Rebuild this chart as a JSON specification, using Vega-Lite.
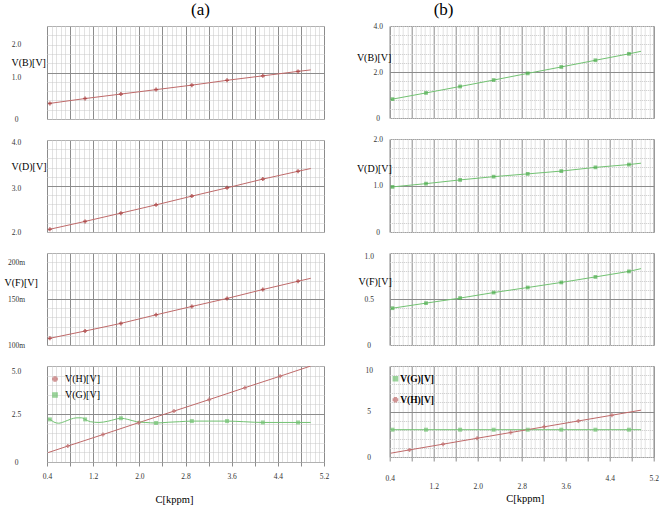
{
"$schema": "https://vega.github.io/schema/vega-lite/v6.json",
"padding": {"left": 3, "top": 0, "right": 5, "bottom": 0},
"spacing": 25.7,
"resolve": {"scale": {"color": "independent", "shape": "independent"}, "legend": {"color": "independent", "shape": "independent"}},
"config": {
 "font": "Liberation Serif",
 "view": {"stroke": "#999999", "strokeWidth": 1},
 "axis": {"labelFont": "Liberation Serif", "titleFont": "Liberation Serif", "labelColor": "#333333", "titleColor": "#000000", "titleFontWeight": "normal", "labelFontSize": 7.5, "domain": false, "labelOverlap": false, "labelFlush": false, "labelBound": false},
 "legend": {"labelFont": "Liberation Serif"},
 "title": {"font": "Liberation Serif", "fontWeight": "normal", "color": "#000000"}
},
"data": {"values": [
 {"panel":"a1","series":"V(B)","kind":"line","x":0.42,"y":0.41},
 {"panel":"a1","series":"V(B)","kind":"point","x":0.45,"y":0.42},
 {"panel":"a1","series":"V(B)","kind":"point","x":1.06,"y":0.55},
 {"panel":"a1","series":"V(B)","kind":"point","x":1.68,"y":0.67},
 {"panel":"a1","series":"V(B)","kind":"point","x":2.29,"y":0.79},
 {"panel":"a1","series":"V(B)","kind":"point","x":2.91,"y":0.91},
 {"panel":"a1","series":"V(B)","kind":"point","x":3.52,"y":1.04},
 {"panel":"a1","series":"V(B)","kind":"point","x":4.14,"y":1.16},
 {"panel":"a1","series":"V(B)","kind":"point","x":4.75,"y":1.28},
 {"panel":"a1","series":"V(B)","kind":"line","x":4.97,"y":1.32},
 {"panel":"a2","series":"V(D)","kind":"line","x":0.42,"y":2.04},
 {"panel":"a2","series":"V(D)","kind":"point","x":0.45,"y":2.06},
 {"panel":"a2","series":"V(D)","kind":"point","x":1.06,"y":2.23},
 {"panel":"a2","series":"V(D)","kind":"point","x":1.68,"y":2.41},
 {"panel":"a2","series":"V(D)","kind":"point","x":2.29,"y":2.59},
 {"panel":"a2","series":"V(D)","kind":"point","x":2.91,"y":2.78},
 {"panel":"a2","series":"V(D)","kind":"point","x":3.52,"y":2.96},
 {"panel":"a2","series":"V(D)","kind":"point","x":4.14,"y":3.15},
 {"panel":"a2","series":"V(D)","kind":"point","x":4.75,"y":3.32},
 {"panel":"a2","series":"V(D)","kind":"line","x":4.97,"y":3.38},
 {"panel":"a3","series":"V(F)","kind":"line","x":0.42,"y":0.1065},
 {"panel":"a3","series":"V(F)","kind":"point","x":0.45,"y":0.1073},
 {"panel":"a3","series":"V(F)","kind":"point","x":1.06,"y":0.1152},
 {"panel":"a3","series":"V(F)","kind":"point","x":1.68,"y":0.1235},
 {"panel":"a3","series":"V(F)","kind":"point","x":2.29,"y":0.1328},
 {"panel":"a3","series":"V(F)","kind":"point","x":2.91,"y":0.1419},
 {"panel":"a3","series":"V(F)","kind":"point","x":3.52,"y":0.1506},
 {"panel":"a3","series":"V(F)","kind":"point","x":4.14,"y":0.1603},
 {"panel":"a3","series":"V(F)","kind":"point","x":4.75,"y":0.1693},
 {"panel":"a3","series":"V(F)","kind":"line","x":4.97,"y":0.1725},
 {"panel":"a4","series":"V(H)[V]","kind":"line","x":0.42,"y":0.49},
 {"panel":"a4","series":"V(H)[V]","kind":"point","x":0.76,"y":0.83},
 {"panel":"a4","series":"V(H)[V]","kind":"point","x":1.37,"y":1.43},
 {"panel":"a4","series":"V(H)[V]","kind":"point","x":1.99,"y":2.05},
 {"panel":"a4","series":"V(H)[V]","kind":"point","x":2.6,"y":2.65},
 {"panel":"a4","series":"V(H)[V]","kind":"point","x":3.21,"y":3.25},
 {"panel":"a4","series":"V(H)[V]","kind":"point","x":3.83,"y":3.87},
 {"panel":"a4","series":"V(H)[V]","kind":"point","x":4.44,"y":4.47},
 {"panel":"a4","series":"V(H)[V]","kind":"line","x":4.97,"y":5.0},
 {"panel":"a4","series":"V(G)[V]","kind":"line","x":0.42,"y":2.24},
 {"panel":"a4","series":"V(G)[V]","kind":"point","x":0.45,"y":2.22},
 {"panel":"a4","series":"V(G)[V]","kind":"line","x":0.52,"y":2.08},
 {"panel":"a4","series":"V(G)[V]","kind":"line","x":0.6,"y":2.02},
 {"panel":"a4","series":"V(G)[V]","kind":"line","x":0.7,"y":2.1},
 {"panel":"a4","series":"V(G)[V]","kind":"line","x":0.8,"y":2.22},
 {"panel":"a4","series":"V(G)[V]","kind":"line","x":0.92,"y":2.3},
 {"panel":"a4","series":"V(G)[V]","kind":"line","x":1.0,"y":2.3},
 {"panel":"a4","series":"V(G)[V]","kind":"point","x":1.06,"y":2.22},
 {"panel":"a4","series":"V(G)[V]","kind":"line","x":1.15,"y":2.1},
 {"panel":"a4","series":"V(G)[V]","kind":"line","x":1.3,"y":2.06},
 {"panel":"a4","series":"V(G)[V]","kind":"line","x":1.45,"y":2.12},
 {"panel":"a4","series":"V(G)[V]","kind":"line","x":1.58,"y":2.22},
 {"panel":"a4","series":"V(G)[V]","kind":"point","x":1.68,"y":2.28},
 {"panel":"a4","series":"V(G)[V]","kind":"line","x":1.8,"y":2.22},
 {"panel":"a4","series":"V(G)[V]","kind":"line","x":1.95,"y":2.1},
 {"panel":"a4","series":"V(G)[V]","kind":"line","x":2.1,"y":2.06},
 {"panel":"a4","series":"V(G)[V]","kind":"point","x":2.29,"y":2.03},
 {"panel":"a4","series":"V(G)[V]","kind":"line","x":2.5,"y":2.07},
 {"panel":"a4","series":"V(G)[V]","kind":"line","x":2.7,"y":2.1},
 {"panel":"a4","series":"V(G)[V]","kind":"point","x":2.91,"y":2.13},
 {"panel":"a4","series":"V(G)[V]","kind":"line","x":3.2,"y":2.13},
 {"panel":"a4","series":"V(G)[V]","kind":"point","x":3.52,"y":2.13},
 {"panel":"a4","series":"V(G)[V]","kind":"line","x":3.8,"y":2.1},
 {"panel":"a4","series":"V(G)[V]","kind":"line","x":4.0,"y":2.07},
 {"panel":"a4","series":"V(G)[V]","kind":"point","x":4.14,"y":2.06},
 {"panel":"a4","series":"V(G)[V]","kind":"point","x":4.75,"y":2.06},
 {"panel":"a4","series":"V(G)[V]","kind":"line","x":4.97,"y":2.06},
 {"panel":"b1","series":"V(B)","kind":"line","x":0.42,"y":0.8},
 {"panel":"b1","series":"V(B)","kind":"point","x":0.45,"y":0.82},
 {"panel":"b1","series":"V(B)","kind":"point","x":1.06,"y":1.09},
 {"panel":"b1","series":"V(B)","kind":"point","x":1.68,"y":1.37},
 {"panel":"b1","series":"V(B)","kind":"point","x":2.29,"y":1.65},
 {"panel":"b1","series":"V(B)","kind":"point","x":2.91,"y":1.94},
 {"panel":"b1","series":"V(B)","kind":"point","x":3.52,"y":2.22},
 {"panel":"b1","series":"V(B)","kind":"point","x":4.14,"y":2.51},
 {"panel":"b1","series":"V(B)","kind":"point","x":4.75,"y":2.79},
 {"panel":"b1","series":"V(B)","kind":"line","x":4.97,"y":2.9},
 {"panel":"b2","series":"V(D)","kind":"line","x":0.42,"y":0.96},
 {"panel":"b2","series":"V(D)","kind":"point","x":0.45,"y":0.97},
 {"panel":"b2","series":"V(D)","kind":"point","x":1.06,"y":1.04},
 {"panel":"b2","series":"V(D)","kind":"point","x":1.68,"y":1.12},
 {"panel":"b2","series":"V(D)","kind":"point","x":2.29,"y":1.19},
 {"panel":"b2","series":"V(D)","kind":"point","x":2.91,"y":1.25},
 {"panel":"b2","series":"V(D)","kind":"point","x":3.52,"y":1.31},
 {"panel":"b2","series":"V(D)","kind":"point","x":4.14,"y":1.39},
 {"panel":"b2","series":"V(D)","kind":"point","x":4.75,"y":1.45},
 {"panel":"b2","series":"V(D)","kind":"line","x":4.97,"y":1.48},
 {"panel":"b3","series":"V(F)","kind":"line","x":0.42,"y":0.395},
 {"panel":"b3","series":"V(F)","kind":"point","x":0.45,"y":0.4},
 {"panel":"b3","series":"V(F)","kind":"point","x":1.06,"y":0.455},
 {"panel":"b3","series":"V(F)","kind":"point","x":1.68,"y":0.51},
 {"panel":"b3","series":"V(F)","kind":"point","x":2.29,"y":0.57},
 {"panel":"b3","series":"V(F)","kind":"point","x":2.91,"y":0.625},
 {"panel":"b3","series":"V(F)","kind":"point","x":3.52,"y":0.68},
 {"panel":"b3","series":"V(F)","kind":"point","x":4.14,"y":0.74},
 {"panel":"b3","series":"V(F)","kind":"point","x":4.75,"y":0.8},
 {"panel":"b3","series":"V(F)","kind":"line","x":4.97,"y":0.83},
 {"panel":"b4","series":"V(G)[V]","kind":"line","x":0.42,"y":3.0},
 {"panel":"b4","series":"V(G)[V]","kind":"point","x":0.45,"y":3.0},
 {"panel":"b4","series":"V(G)[V]","kind":"point","x":1.06,"y":3.0},
 {"panel":"b4","series":"V(G)[V]","kind":"point","x":1.68,"y":3.0},
 {"panel":"b4","series":"V(G)[V]","kind":"point","x":2.29,"y":3.0},
 {"panel":"b4","series":"V(G)[V]","kind":"point","x":2.91,"y":3.0},
 {"panel":"b4","series":"V(G)[V]","kind":"point","x":3.52,"y":3.0},
 {"panel":"b4","series":"V(G)[V]","kind":"point","x":4.14,"y":3.0},
 {"panel":"b4","series":"V(G)[V]","kind":"point","x":4.75,"y":3.0},
 {"panel":"b4","series":"V(G)[V]","kind":"line","x":4.97,"y":3.0},
 {"panel":"b4","series":"V(H)[V]","kind":"line","x":0.42,"y":0.42},
 {"panel":"b4","series":"V(H)[V]","kind":"point","x":0.76,"y":0.78},
 {"panel":"b4","series":"V(H)[V]","kind":"point","x":1.37,"y":1.41},
 {"panel":"b4","series":"V(H)[V]","kind":"point","x":1.99,"y":2.06},
 {"panel":"b4","series":"V(H)[V]","kind":"point","x":2.6,"y":2.69},
 {"panel":"b4","series":"V(H)[V]","kind":"point","x":3.21,"y":3.32},
 {"panel":"b4","series":"V(H)[V]","kind":"point","x":3.83,"y":3.96},
 {"panel":"b4","series":"V(H)[V]","kind":"point","x":4.44,"y":4.59},
 {"panel":"b4","series":"V(H)[V]","kind":"line","x":4.97,"y":5.15}
]},
"hconcat": [
 {
  "title": {"text": "(a)", "anchor": "start", "frame": "group", "dx": 144, "offset": 3, "fontSize": 17},
  "bounds": "flush",
  "spacing": 21,
  "resolve": {"scale": {"color": "independent", "shape": "independent"}, "legend": {"color": "independent", "shape": "independent"}},
  "vconcat": [
   {
    "width": 277, "height": 93,
    "transform": [{"filter": "datum.panel == 'a1'"}],
    "encoding": {
     "x": {"field": "x", "type": "quantitative", "scale": {"domain": [0.4, 5.2], "nice": false, "zero": false},
      "axis": {"values": [0.4,0.48,0.56,0.64,0.72,0.8,0.88,0.96,1.04,1.12,1.2,1.28,1.36,1.44,1.52,1.6,1.68,1.76,1.84,1.92,2,2.08,2.16,2.24,2.32,2.4,2.48,2.56,2.64,2.72,2.8,2.88,2.96,3.04,3.12,3.2,3.28,3.36,3.44,3.52,3.6,3.68,3.76,3.84,3.92,4,4.08,4.16,4.24,4.32,4.4,4.48,4.56,4.64,4.72,4.8,4.88,4.96,5.04,5.12,5.2], "labels": false, "ticks": false, "title": null, "grid": true,
       "gridColor": {"condition": {"test": "abs(datum.value*2.5-round(datum.value*2.5))<0.01", "value": "#8c8c8c"}, "value": "#c4c4c4"},
       "gridDash": {"condition": {"test": "abs(datum.value*2.5-round(datum.value*2.5))<0.01", "value": []}, "value": [1, 1]}}},
     "y": {"field": "y", "type": "quantitative", "scale": {"domain": [0, 2.5], "nice": false, "zero": false},
      "axis": {"values": [0,0.25,0.5,0.75,1,1.25,1.5,1.75,2,2.25,2.5], "labelExpr": "abs(datum.value)<0.001 ? '0' : abs(datum.value-1)<0.001 ? '1.0' : abs(datum.value-2)<0.001 ? '2.0' : ''",
       "labelOffset": {"condition": {"test": "abs(datum.value-1)<0.001", "value": -4}, "value": 0},
       "ticks": false, "tickSize": 0, "labelAlign": "center", "labelBaseline": "middle", "labelPadding": 31, "grid": true,
       "gridColor": {"condition": {"test": "abs(datum.value-1.25)<0.001", "value": "#8c8c8c"}, "value": "#c8c8c8"},
       "gridDash": {"condition": {"test": "abs(datum.value-1.25)<0.001", "value": []}, "value": [1, 1]},
       "title": "V(B)[V]", "titleAngle": 0, "titleX": -36, "titleY": 36.7, "titleAlign": "left", "titleBaseline": "middle", "titleFontSize": 10}}
    },
    "layer": [
     {"mark": {"type": "line", "color": "#bf6a6a", "strokeWidth": 1}},
     {"transform": [{"filter": "datum.kind == 'point'"}], "mark": {"type": "point", "shape": "cross", "filled": true, "size": 16, "color": "#a83a3a"}}
    ]
   },
   {
    "width": 277, "height": 92,
    "transform": [{"filter": "datum.panel == 'a2'"}],
    "encoding": {
     "x": {"field": "x", "type": "quantitative", "scale": {"domain": [0.4, 5.2], "nice": false, "zero": false},
      "axis": {"values": [0.4,0.48,0.56,0.64,0.72,0.8,0.88,0.96,1.04,1.12,1.2,1.28,1.36,1.44,1.52,1.6,1.68,1.76,1.84,1.92,2,2.08,2.16,2.24,2.32,2.4,2.48,2.56,2.64,2.72,2.8,2.88,2.96,3.04,3.12,3.2,3.28,3.36,3.44,3.52,3.6,3.68,3.76,3.84,3.92,4,4.08,4.16,4.24,4.32,4.4,4.48,4.56,4.64,4.72,4.8,4.88,4.96,5.04,5.12,5.2], "labels": false, "ticks": false, "title": null, "grid": true,
       "gridColor": {"condition": {"test": "abs(datum.value*2.5-round(datum.value*2.5))<0.01", "value": "#8c8c8c"}, "value": "#c4c4c4"},
       "gridDash": {"condition": {"test": "abs(datum.value*2.5-round(datum.value*2.5))<0.01", "value": []}, "value": [1, 1]}}},
     "y": {"field": "y", "type": "quantitative", "scale": {"domain": [2, 4], "nice": false, "zero": false},
      "axis": {"values": [2,2.2,2.4,2.6,2.8,3,3.2,3.4,3.6,3.8,4], "labelExpr": "abs(datum.value-2)<0.001 ? '2.0' : abs(datum.value-3)<0.001 ? '3.0' : abs(datum.value-4)<0.001 ? '4.0' : ''",
       "labelOffset": {"condition": {"test": "datum.value > 2.5", "value": 2}, "value": 0},
       "ticks": false, "tickSize": 0, "labelAlign": "center", "labelBaseline": "middle", "labelPadding": 31, "grid": true,
       "gridColor": {"condition": {"test": "abs(datum.value-3)<0.001", "value": "#8c8c8c"}, "value": "#c8c8c8"},
       "gridDash": {"condition": {"test": "abs(datum.value-3)<0.001", "value": []}, "value": [1, 1]},
       "title": "V(D)[V]", "titleAngle": 0, "titleX": -36, "titleY": 26.7, "titleAlign": "left", "titleBaseline": "middle", "titleFontSize": 10}}
    },
    "layer": [
     {"mark": {"type": "line", "color": "#bf6a6a", "strokeWidth": 1}},
     {"transform": [{"filter": "datum.kind == 'point'"}], "mark": {"type": "point", "shape": "cross", "filled": true, "size": 16, "color": "#a83a3a"}}
    ]
   },
   {
    "width": 277, "height": 92,
    "transform": [{"filter": "datum.panel == 'a3'"}],
    "encoding": {
     "x": {"field": "x", "type": "quantitative", "scale": {"domain": [0.4, 5.2], "nice": false, "zero": false},
      "axis": {"values": [0.4,0.48,0.56,0.64,0.72,0.8,0.88,0.96,1.04,1.12,1.2,1.28,1.36,1.44,1.52,1.6,1.68,1.76,1.84,1.92,2,2.08,2.16,2.24,2.32,2.4,2.48,2.56,2.64,2.72,2.8,2.88,2.96,3.04,3.12,3.2,3.28,3.36,3.44,3.52,3.6,3.68,3.76,3.84,3.92,4,4.08,4.16,4.24,4.32,4.4,4.48,4.56,4.64,4.72,4.8,4.88,4.96,5.04,5.12,5.2], "labels": false, "ticks": false, "title": null, "grid": true,
       "gridColor": {"condition": {"test": "abs(datum.value*2.5-round(datum.value*2.5))<0.01", "value": "#8c8c8c"}, "value": "#c4c4c4"},
       "gridDash": {"condition": {"test": "abs(datum.value*2.5-round(datum.value*2.5))<0.01", "value": []}, "value": [1, 1]}}},
     "y": {"field": "y", "type": "quantitative", "scale": {"domain": [0.1, 0.2], "nice": false, "zero": false},
      "axis": {"values": [0.1,0.11,0.12,0.13,0.14,0.15,0.16,0.17,0.18,0.19,0.2], "labelExpr": "abs(datum.value-0.1)<0.0001 ? '100m' : abs(datum.value-0.15)<0.0001 ? '150m' : abs(datum.value-0.2)<0.0001 ? '200m' : ''",
       "labelOffset": {"condition": {"test": "abs(datum.value-0.2)<0.0001", "value": 9}, "value": 0},
       "ticks": false, "tickSize": 0, "labelAlign": "center", "labelBaseline": "middle", "labelPadding": 31, "grid": true,
       "gridColor": {"condition": {"test": "abs(datum.value-0.15)<0.0001", "value": "#8c8c8c"}, "value": "#c8c8c8"},
       "gridDash": {"condition": {"test": "abs(datum.value-0.15)<0.0001", "value": []}, "value": [1, 1]},
       "title": "V(F)[V]", "titleAngle": 0, "titleX": -43, "titleY": 29.3, "titleAlign": "left", "titleBaseline": "middle", "titleFontSize": 10}}
    },
    "layer": [
     {"mark": {"type": "line", "color": "#bf6a6a", "strokeWidth": 1}},
     {"transform": [{"filter": "datum.kind == 'point'"}], "mark": {"type": "point", "shape": "cross", "filled": true, "size": 16, "color": "#a83a3a"}}
    ]
   },
   {
    "width": 277, "height": 96,
    "transform": [{"filter": "datum.panel == 'a4'"}],
    "encoding": {
     "x": {"field": "x", "type": "quantitative", "scale": {"domain": [0.4, 5.2], "nice": false, "zero": false},
      "axis": {"values": [0.4,0.48,0.56,0.64,0.72,0.8,0.88,0.96,1.04,1.12,1.2,1.28,1.36,1.44,1.52,1.6,1.68,1.76,1.84,1.92,2,2.08,2.16,2.24,2.32,2.4,2.48,2.56,2.64,2.72,2.8,2.88,2.96,3.04,3.12,3.2,3.28,3.36,3.44,3.52,3.6,3.68,3.76,3.84,3.92,4,4.08,4.16,4.24,4.32,4.4,4.48,4.56,4.64,4.72,4.8,4.88,4.96,5.04,5.12,5.2],
       "labelExpr": "abs((datum.value-0.4)/0.8-round((datum.value-0.4)/0.8))<0.01 ? format(datum.value, '.1f') : ''",
       "ticks": true, "tickSize": 4, "tickColor": "#8c8c8c",
       "tickOpacity": {"condition": {"test": "abs(datum.value*2.5-round(datum.value*2.5))<0.01", "value": 1}, "value": 0},
       "labelPadding": 6.5, "grid": true,
       "gridColor": {"condition": {"test": "abs(datum.value*2.5-round(datum.value*2.5))<0.01", "value": "#8c8c8c"}, "value": "#c4c4c4"},
       "gridDash": {"condition": {"test": "abs(datum.value*2.5-round(datum.value*2.5))<0.01", "value": []}, "value": [1, 1]},
       "title": "C[kppm]", "titleFontSize": 10.5, "titleX": 127, "titleY": 37.5, "titleAlign": "center", "titleBaseline": "middle"}},
     "y": {"field": "y", "type": "quantitative", "scale": {"domain": [0, 5], "nice": false, "zero": false},
      "axis": {"values": [0,0.5,1,1.5,2,2.5,3,3.5,4,4.5,5], "labelExpr": "abs(datum.value)<0.001 ? '0' : abs(datum.value-2.5)<0.001 ? '2.5' : abs(datum.value-5)<0.001 ? '5.0' : ''",
       "labelOffset": {"condition": {"test": "abs(datum.value-5)<0.001", "value": 5}, "value": 0},
       "ticks": false, "tickSize": 0, "labelAlign": "center", "labelBaseline": "middle", "labelPadding": 31, "grid": true,
       "gridColor": {"condition": {"test": "abs(datum.value-2.5)<0.001", "value": "#8c8c8c"}, "value": "#c8c8c8"},
       "gridDash": {"condition": {"test": "abs(datum.value-2.5)<0.001", "value": []}, "value": [1, 1]},
       "title": null}},
     "color": {"field": "series", "type": "nominal", "scale": {"domain": ["V(H)[V]", "V(G)[V]"], "range": ["#bf6a6a", "#72c272"]},
      "legend": {"title": null, "orient": "none", "legendX": 3, "legendY": 8, "padding": 0, "labelFontSize": 10, "labelOffset": 5, "rowPadding": 4, "symbolSize": 18, "labelColor": "#000000"}}
    },
    "layer": [
     {"mark": {"type": "line", "strokeWidth": 1, "interpolate": "monotone", "clip": true}},
     {"transform": [{"filter": "datum.kind == 'point'"}], "mark": {"type": "point", "filled": true, "size": 16},
      "encoding": {"shape": {"field": "series", "type": "nominal", "scale": {"domain": ["V(H)[V]", "V(G)[V]"], "range": ["cross", "square"]},
       "legend": {"title": null, "orient": "none", "legendX": 3, "legendY": 8, "padding": 0, "labelFontSize": 10, "labelOffset": 5, "rowPadding": 4, "symbolSize": 18, "labelColor": "#000000"}}}}
    ]
   }
  ]
 },
 {
  "title": {"text": "(b)", "anchor": "start", "frame": "group", "dx": 44, "offset": 3, "fontSize": 17},
  "bounds": "flush",
  "spacing": 21,
  "resolve": {"scale": {"color": "independent", "shape": "independent"}, "legend": {"color": "independent", "shape": "independent"}},
  "vconcat": [
   {
    "width": 264, "height": 92,
    "transform": [{"filter": "datum.panel == 'b1'"}],
    "encoding": {
     "x": {"field": "x", "type": "quantitative", "scale": {"domain": [0.4, 5.2], "nice": false, "zero": false},
      "axis": {"values": [0.4,0.48,0.56,0.64,0.72,0.8,0.88,0.96,1.04,1.12,1.2,1.28,1.36,1.44,1.52,1.6,1.68,1.76,1.84,1.92,2,2.08,2.16,2.24,2.32,2.4,2.48,2.56,2.64,2.72,2.8,2.88,2.96,3.04,3.12,3.2,3.28,3.36,3.44,3.52,3.6,3.68,3.76,3.84,3.92,4,4.08,4.16,4.24,4.32,4.4,4.48,4.56,4.64,4.72,4.8,4.88,4.96,5.04,5.12,5.2], "labels": false, "ticks": false, "title": null, "grid": true,
       "gridColor": {"condition": {"test": "abs(datum.value*2.5-round(datum.value*2.5))<0.01", "value": "#8c8c8c"}, "value": "#c4c4c4"},
       "gridDash": {"condition": {"test": "abs(datum.value*2.5-round(datum.value*2.5))<0.01", "value": []}, "value": [1, 1]}}},
     "y": {"field": "y", "type": "quantitative", "scale": {"domain": [0, 4], "nice": false, "zero": false},
      "axis": {"values": [0,0.4,0.8,1.2,1.6,2,2.4,2.8,3.2,3.6,4], "labelExpr": "abs(datum.value)<0.001 ? '0' : abs(datum.value-2)<0.001 ? '2.0' : abs(datum.value-4)<0.001 ? '4.0' : ''",
       "ticks": false, "tickSize": 0, "labelAlign": "center", "labelBaseline": "middle", "labelPadding": 12, "grid": true,
       "gridColor": {"condition": {"test": "abs(datum.value-2)<0.001", "value": "#8c8c8c"}, "value": "#c8c8c8"},
       "gridDash": {"condition": {"test": "abs(datum.value-2)<0.001", "value": []}, "value": [1, 1]},
       "title": "V(B)[V]", "titleAngle": 0, "titleX": -33.3, "titleY": 31, "titleAlign": "left", "titleBaseline": "middle", "titleFontSize": 10}}
    },
    "layer": [
     {"mark": {"type": "line", "color": "#72c272", "strokeWidth": 1}},
     {"transform": [{"filter": "datum.kind == 'point'"}], "mark": {"type": "point", "shape": "square", "filled": true, "size": 14, "color": "#4fae4f"}}
    ]
   },
   {
    "width": 264, "height": 93,
    "transform": [{"filter": "datum.panel == 'b2'"}],
    "encoding": {
     "x": {"field": "x", "type": "quantitative", "scale": {"domain": [0.4, 5.2], "nice": false, "zero": false},
      "axis": {"values": [0.4,0.48,0.56,0.64,0.72,0.8,0.88,0.96,1.04,1.12,1.2,1.28,1.36,1.44,1.52,1.6,1.68,1.76,1.84,1.92,2,2.08,2.16,2.24,2.32,2.4,2.48,2.56,2.64,2.72,2.8,2.88,2.96,3.04,3.12,3.2,3.28,3.36,3.44,3.52,3.6,3.68,3.76,3.84,3.92,4,4.08,4.16,4.24,4.32,4.4,4.48,4.56,4.64,4.72,4.8,4.88,4.96,5.04,5.12,5.2], "labels": false, "ticks": false, "title": null, "grid": true,
       "gridColor": {"condition": {"test": "abs(datum.value*2.5-round(datum.value*2.5))<0.01", "value": "#8c8c8c"}, "value": "#c4c4c4"},
       "gridDash": {"condition": {"test": "abs(datum.value*2.5-round(datum.value*2.5))<0.01", "value": []}, "value": [1, 1]}}},
     "y": {"field": "y", "type": "quantitative", "scale": {"domain": [0, 2], "nice": false, "zero": false},
      "axis": {"values": [0,0.2,0.4,0.6,0.8,1,1.2,1.4,1.6,1.8,2], "labelExpr": "abs(datum.value)<0.001 ? '0' : abs(datum.value-1)<0.001 ? '1.0' : abs(datum.value-2)<0.001 ? '2.0' : ''",
       "ticks": false, "tickSize": 0, "labelAlign": "center", "labelBaseline": "middle", "labelPadding": 12, "grid": true,
       "gridColor": {"condition": {"test": "abs(datum.value-1)<0.001", "value": "#8c8c8c"}, "value": "#c8c8c8"},
       "gridDash": {"condition": {"test": "abs(datum.value-1)<0.001", "value": []}, "value": [1, 1]},
       "title": "V(D)[V]", "titleAngle": 0, "titleX": -33.3, "titleY": 29.3, "titleAlign": "left", "titleBaseline": "middle", "titleFontSize": 10}}
    },
    "layer": [
     {"mark": {"type": "line", "color": "#72c272", "strokeWidth": 1}},
     {"transform": [{"filter": "datum.kind == 'point'"}], "mark": {"type": "point", "shape": "square", "filled": true, "size": 14, "color": "#4fae4f"}}
    ]
   },
   {
    "width": 264, "height": 92,
    "transform": [{"filter": "datum.panel == 'b3'"}],
    "encoding": {
     "x": {"field": "x", "type": "quantitative", "scale": {"domain": [0.4, 5.2], "nice": false, "zero": false},
      "axis": {"values": [0.4,0.48,0.56,0.64,0.72,0.8,0.88,0.96,1.04,1.12,1.2,1.28,1.36,1.44,1.52,1.6,1.68,1.76,1.84,1.92,2,2.08,2.16,2.24,2.32,2.4,2.48,2.56,2.64,2.72,2.8,2.88,2.96,3.04,3.12,3.2,3.28,3.36,3.44,3.52,3.6,3.68,3.76,3.84,3.92,4,4.08,4.16,4.24,4.32,4.4,4.48,4.56,4.64,4.72,4.8,4.88,4.96,5.04,5.12,5.2], "labels": false, "ticks": false, "title": null, "grid": true,
       "gridColor": {"condition": {"test": "abs(datum.value*2.5-round(datum.value*2.5))<0.01", "value": "#8c8c8c"}, "value": "#c4c4c4"},
       "gridDash": {"condition": {"test": "abs(datum.value*2.5-round(datum.value*2.5))<0.01", "value": []}, "value": [1, 1]}}},
     "y": {"field": "y", "type": "quantitative", "scale": {"domain": [0, 1], "nice": false, "zero": false},
      "axis": {"values": [0,0.1,0.2,0.3,0.4,0.5,0.6,0.7,0.8,0.9,1], "labelExpr": "abs(datum.value)<0.001 ? '0' : abs(datum.value-0.5)<0.001 ? '0.5' : abs(datum.value-1)<0.001 ? '1.0' : ''",
       "labelOffset": {"condition": {"test": "abs(datum.value-1)<0.001", "value": 3}, "value": 0},
       "ticks": false, "tickSize": 0, "labelAlign": "center", "labelBaseline": "middle", "labelPadding": 21, "grid": true,
       "gridColor": {"condition": {"test": "abs(datum.value-0.5)<0.001", "value": "#8c8c8c"}, "value": "#c8c8c8"},
       "gridDash": {"condition": {"test": "abs(datum.value-0.5)<0.001", "value": []}, "value": [1, 1]},
       "title": "V(F)[V]", "titleAngle": 0, "titleX": -31.7, "titleY": 28.3, "titleAlign": "left", "titleBaseline": "middle", "titleFontSize": 10}}
    },
    "layer": [
     {"mark": {"type": "line", "color": "#72c272", "strokeWidth": 1}},
     {"transform": [{"filter": "datum.kind == 'point'"}], "mark": {"type": "point", "shape": "square", "filled": true, "size": 14, "color": "#4fae4f"}}
    ]
   },
   {
    "width": 264, "height": 91,
    "transform": [{"filter": "datum.panel == 'b4'"}],
    "encoding": {
     "x": {"field": "x", "type": "quantitative", "scale": {"domain": [0.4, 5.2], "nice": false, "zero": false},
      "axis": {"values": [0.4,0.48,0.56,0.64,0.72,0.8,0.88,0.96,1.04,1.12,1.2,1.28,1.36,1.44,1.52,1.6,1.68,1.76,1.84,1.92,2,2.08,2.16,2.24,2.32,2.4,2.48,2.56,2.64,2.72,2.8,2.88,2.96,3.04,3.12,3.2,3.28,3.36,3.44,3.52,3.6,3.68,3.76,3.84,3.92,4,4.08,4.16,4.24,4.32,4.4,4.48,4.56,4.64,4.72,4.8,4.88,4.96,5.04,5.12,5.2],
       "labelExpr": "abs((datum.value-0.4)/0.8-round((datum.value-0.4)/0.8))<0.01 ? format(datum.value, '.1f') : ''",
       "ticks": true, "tickSize": 4, "tickColor": "#8c8c8c",
       "tickOpacity": {"condition": {"test": "abs(datum.value*2.5-round(datum.value*2.5))<0.01", "value": 1}, "value": 0},
       "labelPadding": {"condition": {"test": "datum.value < 1 || datum.value > 4", "value": 13.5}, "value": 21.5},
       "grid": true,
       "gridColor": {"condition": {"test": "abs(datum.value*2.5-round(datum.value*2.5))<0.01", "value": "#8c8c8c"}, "value": "#c4c4c4"},
       "gridDash": {"condition": {"test": "abs(datum.value*2.5-round(datum.value*2.5))<0.01", "value": []}, "value": [1, 1]},
       "title": "C[kppm]", "titleFontSize": 10.5, "titleX": 135, "titleY": 41.3, "titleAlign": "center", "titleBaseline": "middle"}},
     "y": {"field": "y", "type": "quantitative", "scale": {"domain": [0, 10], "nice": false, "zero": false},
      "axis": {"values": [0,1,2,3,4,5,6,7,8,9,10], "labelExpr": "abs(datum.value)<0.001 ? '0' : abs(datum.value-5)<0.001 ? '5' : abs(datum.value-10)<0.001 ? '10' : ''",
       "labelOffset": {"condition": {"test": "abs(datum.value-10)<0.001", "value": 4}, "value": 0},
       "ticks": false, "tickSize": 0, "labelAlign": "center", "labelBaseline": "middle", "labelPadding": 21, "grid": true,
       "gridColor": {"condition": {"test": "abs(datum.value-5)<0.001", "value": "#8c8c8c"}, "value": "#c8c8c8"},
       "gridDash": {"condition": {"test": "abs(datum.value-5)<0.001", "value": []}, "value": [1, 1]},
       "title": null}},
     "color": {"field": "series", "type": "nominal", "scale": {"domain": ["V(G)[V]", "V(H)[V]"], "range": ["#72c272", "#bf6a6a"]},
      "legend": {"title": null, "orient": "none", "legendX": 1, "legendY": 8, "padding": 0, "labelFontSize": 9.5, "labelFontWeight": "bold", "labelOffset": 0, "rowPadding": 10, "symbolSize": 18, "labelColor": "#000000"}}
    },
    "layer": [
     {"mark": {"type": "line", "strokeWidth": 1, "clip": true}},
     {"transform": [{"filter": "datum.kind == 'point'"}], "mark": {"type": "point", "filled": true, "size": 16},
      "encoding": {"shape": {"field": "series", "type": "nominal", "scale": {"domain": ["V(G)[V]", "V(H)[V]"], "range": ["square", "cross"]},
       "legend": {"title": null, "orient": "none", "legendX": 1, "legendY": 8, "padding": 0, "labelFontSize": 9.5, "labelFontWeight": "bold", "labelOffset": 0, "rowPadding": 10, "symbolSize": 18, "labelColor": "#000000"}}}}
    ]
   }
  ]
 }
]
}
